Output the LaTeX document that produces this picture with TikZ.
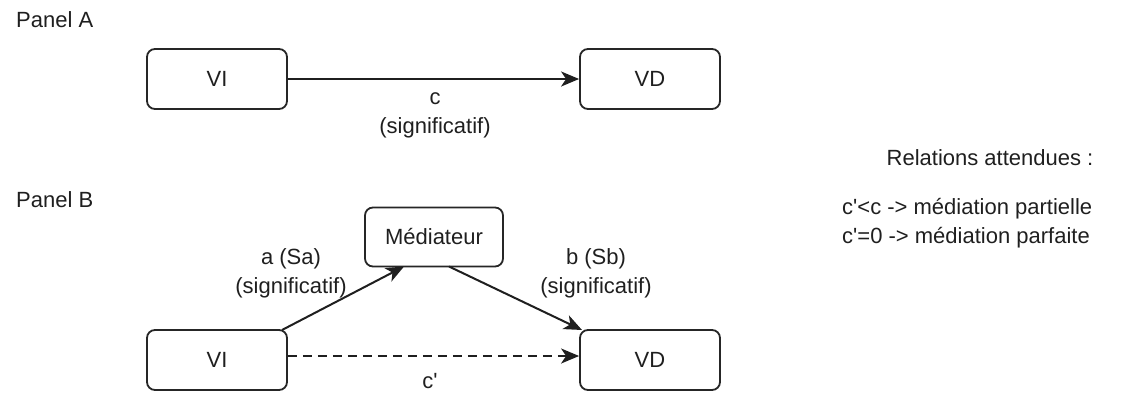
\documentclass[tikz,border=0pt]{standalone}
\usepackage{fontspec}
\setmainfont{Liberation Sans}
\usetikzlibrary{arrows.meta}
\newcommand{\sq}{\textquotesingle}
\begin{document}
\begin{tikzpicture}[x=1pt,y=-1pt,
  every node/.style={font=\fontsize{22}{29}\selectfont, text=black!88},
  varbox/.style={draw=black!85, line width=1.8pt, rounded corners=8pt, minimum width=140pt, minimum height=60pt, inner sep=0pt},
  link/.style={line width=2pt, draw=black!88, -{Stealth[length=18pt,width=15pt,inset=5pt]}},
  lbl/.style={align=center, inner sep=0pt},
  paneltitle/.style={anchor=west, inner sep=0pt}]
\useasboundingbox (0,0) rectangle (1132,394);
% Panel A
\node[paneltitle] (pa) at (16,20) {Panel A};
\node[varbox] (via) at (217,79) {VI};
\node[varbox] (vda) at (650,79) {VD};
\draw[link] (via) -- (vda);
\node[lbl] (ca) at (435,115) {c\\(significatif)};
% Panel B
\node[paneltitle] (pb) at (16,200) {Panel B};
\node[varbox, minimum width=138pt, minimum height=59pt] (med) at (434,237) {Médiateur};
\node[varbox] (vib) at (217,360) {VI};
\node[varbox] (vdb) at (650,360) {VD};
\coordinate (astart) at (282,330);
\coordinate (aend) at (404,266.5);
\coordinate (bstart) at (449,266.5);
\coordinate (bend) at (582,330);
\draw[link] (astart) -- (aend);
\draw[link] (bstart) -- (bend);
\draw[link, dash pattern=on 9pt off 6pt] (vib.east |- 0,356) -- (vdb.west |- 0,356);
\node[lbl] (la) at (291,273) {a (Sa)\\(significatif)};
\node[lbl] (lb) at (596,273) {b (Sb)\\(significatif)};
\node[lbl] (lc) at (430,381) {c\sq};
% Right text
\node[lbl] (rel) at (990,158) {Relations attendues :};
\node[anchor=west, align=left, inner sep=0pt] (cond) at (842,223) {c\sq<c -> médiation partielle\\c\sq=0 -> médiation parfaite};
\end{tikzpicture}
\end{document}
